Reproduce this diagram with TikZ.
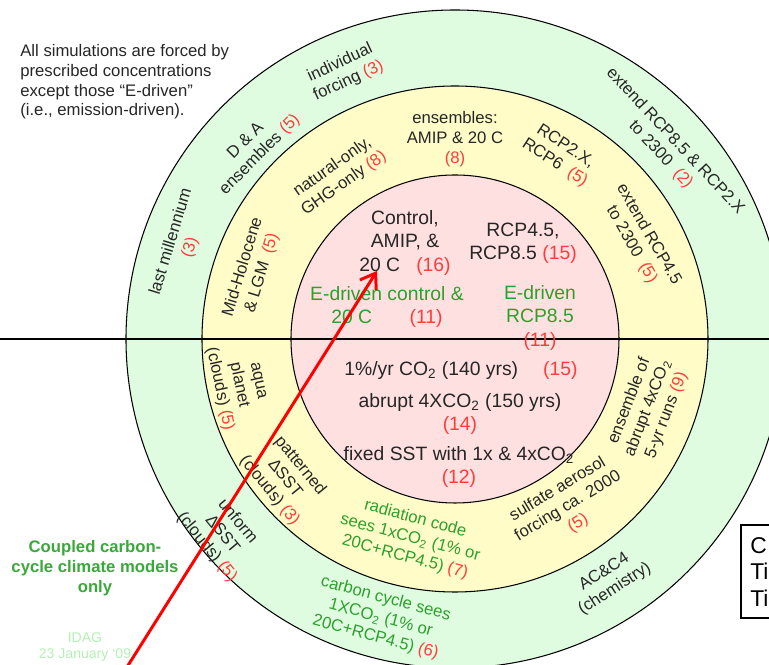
\documentclass[tikz,border=0pt]{standalone}
\usepackage{fontspec}
\setmainfont{Liberation Sans}
\usetikzlibrary{arrows.meta}
\definecolor{ringgreen}{HTML}{E0FCE0}
\definecolor{ringyellow}{HTML}{FFFCC8}
\definecolor{ringpink}{HTML}{FFE0E0}
\definecolor{numred}{HTML}{FF3C3C}
\definecolor{runsgreen}{HTML}{2CA02C}
\definecolor{cplgreen}{HTML}{3AA83A}
\definecolor{idaggreen}{HTML}{B4F0B4}
\newcommand{\nsim}[1]{\textcolor{numred}{(#1)}}
\newcommand{\cotwo}{CO\textsubscript{2}}

\begin{document}
\begin{tikzpicture}[x=0.02cm,y=0.02cm,
        ring/.style={font=\fontsize{9.5}{11.3}\selectfont, align=center,
                text=black!85, inner sep=0pt},
        core/.style={font=\fontsize{11}{13.3}\selectfont, align=center,
                text=black!85, inner sep=0pt},
        edrv/.style={core, text=runsgreen}]
    \useasboundingbox (-455,-326) rectangle (314,339);
    \clip (-455,-326) rectangle (314,339);

    % the three rings
    \draw[fill=ringgreen, line width=0.6pt] (0,0) circle (329);
    \draw[fill=ringyellow, line width=0.6pt] (0,0) circle (253);
    \draw[fill=ringpink, line width=0.6pt] (0,0) circle (164);
    \draw[line width=0.6pt] (-455,0) -- (314,0);

    % outer ring
    \node[ring, rotate=25] (indiv) at (112.5:289) {individual\\forcing \nsim{3}};
    \node[ring, rotate=45] (dna) at (136.6:278) {D \& A\\ensembles \nsim{5}};
    \node[ring, rotate=73] (millen) at (161:290) {last millennium\\\nsim{3}};
    \node[ring, rotate=-47] (ext85) at (41.9:286) {extend RCP8.5 \& RCP2.X\\to 2300\ \ \nsim{2}};
    \node[ring, rotate=-50.4] (unif) at (220:304) {unform\\ΔSST\\(clouds) \nsim{5}};
    \node[ring, text=runsgreen, rotate=-15] (ccycle) at (255.1:289) {carbon cycle sees\\1XCO\textsubscript{2} (1\% or\\20C+RCP4.5) \nsim{6}};
    \node[ring, rotate=32.6] (chem) at (-57.4:287) {AC\&C4\\(chemistry)};

    % middle ring
    \node[ring, rotate=35] (natghg) at (125.5:201) {natural-only,\\GHG-only \nsim{8}};
    \node[ring] (amip) at (90:200) {ensembles:\\AMIP \& 20 C\\\nsim{8}};
    \node[ring, rotate=-33] (rcp26) at (60.3:212) {RCP2.X,\\RCP6\ \ \nsim{5}};
    \node[ring, rotate=-60] (ext45) at (28.2:210) {extend RCP4.5\\to 2300\ \ \nsim{5}};
    \node[ring, rotate=73] (holo) at (161.2:214) {Mid-Holocene\\\& LGM\ \ \nsim{5}};
    \node[ring, rotate=-78] (aqua) at (192:222) {aqua\\planet\\(clouds) \nsim{5}};
    \node[ring, rotate=-50.7] (patt) at (219.3:220) {patterned\\ΔSST\\(clouds) \nsim{3}};
    \node[ring, text=runsgreen, rotate=-15] (radcode) at (257.3:204) {radiation code\\sees 1x\cotwo\ (1\% or\\20C+RCP4.5) \nsim{7}};
    \node[ring, rotate=31] (sulf) at (-56:202) {sulfate aerosol\\forcing ca. 2000\\\nsim{5}};
    \node[ring, rotate=69] (abr4x) at (-19.7:205) {ensemble of\\abrupt 4x\cotwo\\5-yr runs \nsim{9}};

    % inner circle
    \node[core] (ctrl) at (-50,96) {Control,\\AMIP, \&\\20 C\ \ \ \nsim{16}};
    \node[core] (rcp45) at (68,96) {RCP4.5,\\RCP8.5 \nsim{15}};
    \node[edrv] (ectrl) at (-68,32) {E-driven control \&\\20 C\hspace{7.5mm}\nsim{11}};
    \node[edrv] (e85) at (85,21) {E-driven\\RCP8.5\\\nsim{11}};
    \node[core] (onepct) at (6,-32) {1\%/yr \cotwo\ (140 yrs)\hspace{5mm}\nsim{15}};
    \node[core] (abrupt) at (5,-75) {abrupt 4X\cotwo\ (150 yrs)\\\nsim{14}};
    \node[core] (fixsst) at (4,-128) {fixed SST with 1x \& 4x\cotwo\\\nsim{12}};

    % notes outside
    \node[font=\fontsize{9.5}{11.3}\selectfont, align=left, anchor=north west,
        inner sep=0pt, text=black!85] (note) at (-435,295)
        {All simulations are forced by\\prescribed concentrations\\except those “E-driven”\\(i.e., emission-driven).};
    \node[font=\bfseries\fontsize{9.5}{11.3}\selectfont, text=cplgreen,
        align=center] (cpl) at (-360,-229) {Coupled carbon-\\cycle climate models\\only};
    \node[font=\fontsize{8}{9.6}\selectfont, text=idaggreen, align=center]
        (idag) at (-370,-308) {IDAG\\23 January ‘09};

    \draw[line width=0.6pt] (286,-186) rectangle (340,-279);
    \node[font=\fontsize{13}{15.3}\selectfont, align=left, anchor=west,
        inner sep=0pt] (tibox) at (295,-233) {C\\Ti\\Ti};

    \coordinate (foot) at (-333,-336);
    \coordinate (tip) at (-78,68);
    \draw[red, line width=1.7pt, -{Straight Barb[length=8pt,width=11pt]}] (foot) -- (tip);
\end{tikzpicture}
\end{document}
